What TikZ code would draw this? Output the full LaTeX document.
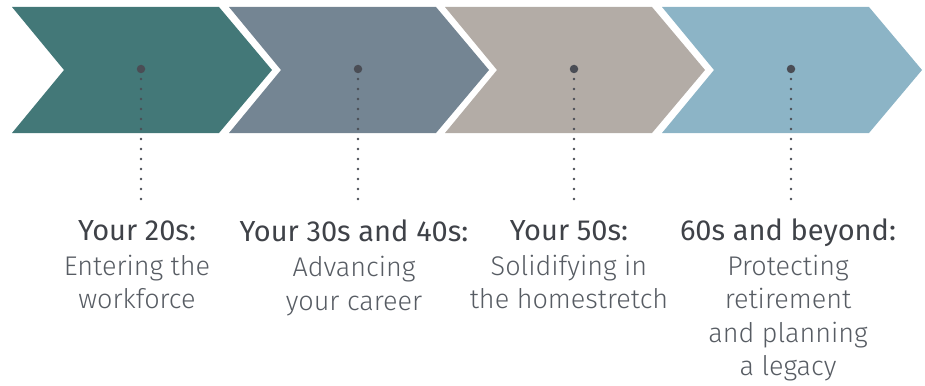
\documentclass[tikz,border=0pt]{standalone}
\usepackage{fontspec}
\setmainfont{Fira Sans Light}[BoldFont={Fira Sans}]
\usepackage{xcolor}
\usepackage{tikz}
\usetikzlibrary{positioning}
\definecolor{stageone}{HTML}{437878}
\definecolor{stagetwo}{HTML}{748593}
\definecolor{stagethree}{HTML}{B3ACA6}
\definecolor{stagefour}{HTML}{8CB4C6}
\definecolor{dotgray}{HTML}{4A4D55}
\definecolor{headgray}{HTML}{3F4248}
\definecolor{textgray}{HTML}{575C63}
\tikzset{stagedot/.style={circle, fill=dotgray, inner sep=0pt, minimum size=8.5pt}}
\tikzset{dotline/.style={draw=dotgray, line width=2.8pt, line cap=round, dash pattern=on 0pt off 10pt}}
\tikzset{stagetext/.style={align=center, text=textgray, inner sep=0pt, anchor=north,
font=\fontsize{27}{33.5}\selectfont}}
%heading line of each caption, a bit larger and heavier
\newcommand{\stagehead}[1]{{\fontsize{29}{33.5}\selectfont\bfseries\color{headgray}#1}\\[1.5pt]}

\begin{document}
\begin{tikzpicture}[x=1pt,y=-1pt]
 \useasboundingbox (0,0) rectangle (925,385);

 %Drawing the four chevrons
 \fill[stageone] (12,7) -- (219,7) -- (272,70) -- (219,133) -- (12,133) -- (64,70) -- cycle;
 \fill[stagetwo] (229,7) -- (436,7) -- (489,70) -- (436,133) -- (229,133) -- (281,70) -- cycle;
 \fill[stagethree] (445,7) -- (652,7) -- (705,70) -- (652,133) -- (445,133) -- (497,70) -- cycle;
 \fill[stagefour] (662,7) -- (869,7) -- (922,70) -- (869,133) -- (662,133) -- (714,70) -- cycle;

 %Stage 1
 \node[stagedot] (dot1) at (141,69) {};
 \coordinate (tail1) at (141,209);
 \draw[dotline] (dot1.center) -- (tail1);
 \node[stagetext] (stage1) at (137,220) {\stagehead{Your 20s:}Entering the\\workforce};

 %Stage 2
 \node[stagedot] (dot2) at (358,69) {};
 \coordinate (tail2) at (358,209);
 \draw[dotline] (dot2.center) -- (tail2);
 \node[stagetext] (stage2) at (354,220) {\stagehead{Your 30s and 40s:}Advancing\\your career};

 %Stage 3
 \node[stagedot] (dot3) at (574,69) {};
 \coordinate (tail3) at (574,209);
 \draw[dotline] (dot3.center) -- (tail3);
 \node[stagetext] (stage3) at (569,220) {\stagehead{Your 50s:}Solidifying in\\the homestretch};

 %Stage 4
 \node[stagedot] (dot4) at (791,69) {};
 \coordinate (tail4) at (791,209);
 \draw[dotline] (dot4.center) -- (tail4);
 \node[stagetext] (stage4) at (788,218.5) {\stagehead{60s and beyond:}Protecting\\retirement\\and planning\\a legacy};

\end{tikzpicture}
\end{document}
